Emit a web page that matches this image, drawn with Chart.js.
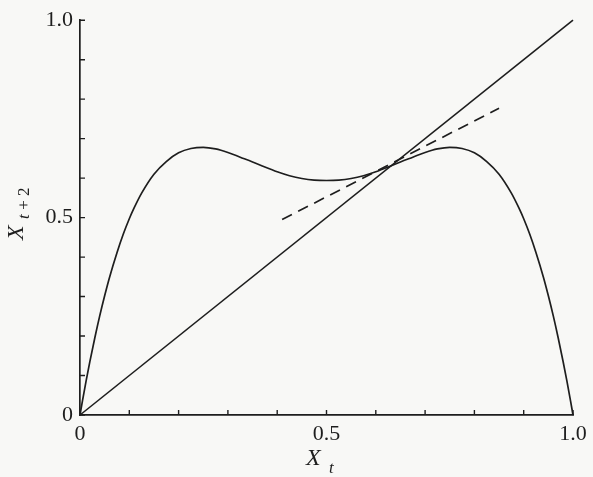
<!DOCTYPE html>
<html>
<head>
<meta charset="utf-8">
<script src="https://cdn.jsdelivr.net/npm/chart.js@4/dist/chart.umd.min.js"></script>
<style>
html,body{margin:0;padding:0;background:#f8f8f6;}
#wrap{width:593px;height:477px;position:relative;}
</style>
</head>
<body>
<div id="wrap"><canvas id="c" width="593" height="477"></canvas></div>
<script>
// Second-iterate curve X_{t+2} vs X_t
const curveX = [0,0.005,0.0125,0.02,0.03,0.04,0.05,0.06,0.075,0.0875,0.1,0.11,0.125,0.15,0.175,0.2,0.225,0.25,0.275,0.3,0.325,0.35,0.375,0.4,0.425,0.45,0.475,0.5,
  0.525,0.55,0.575,0.6,0.625,0.65,0.675,0.7,0.725,0.75,0.775,0.8,0.825,0.85,0.875,0.89,0.9,0.9125,0.925,0.94,0.95,0.96,0.97,0.98,0.9875,0.995,1];
const curveY = [0,0.036,0.087,0.135,0.195,0.251,0.302,0.349,0.411,0.457,0.497,0.525,0.562,0.610,0.642,0.664,0.675,0.678,0.674,0.665,0.653,0.641,0.628,0.616,0.606,0.599,0.595,0.594,
  0.595,0.599,0.606,0.616,0.628,0.641,0.653,0.665,0.674,0.678,0.675,0.664,0.642,0.610,0.562,0.525,0.497,0.457,0.411,0.349,0.302,0.251,0.195,0.135,0.087,0.036,0];
// 45-degree line
const diagX = [0, 1];
const diagY = [0, 1];
// dashed tangent at the fixed point
const tangentX = [0.41, 0.85];
const tangentY = [0.495, 0.777];
// labelled ticks
const tickLabelsX = {"0":"0","0.5":"0.5","1":"1.0"};
const tickLabelsY = {"0":"0","0.5":"0.5","1":"1.0"};

const toPts = (xs, ys) => xs.map((x, i) => ({x: x, y: ys[i]}));
const INK = '#1e1e1e';
const FONT = 'Liberation Serif';

function labelFor(map, v) {
  for (const k in map) { if (Math.abs(parseFloat(k) - v) < 1e-6) return map[k]; }
  return '';
}

const inwardTicks = {
  id: 'inwardTicks',
  afterDraw(chart) {
    const ctx = chart.ctx;
    const xs = chart.scales.x, ys = chart.scales.y;
    ctx.save();
    ctx.strokeStyle = INK;
    ctx.lineWidth = 1.4;
    ctx.beginPath();
    xs.ticks.forEach(t => {
      const px = xs.getPixelForValue(t.value);
      ctx.moveTo(px, ys.bottom);
      ctx.lineTo(px, ys.bottom - 5);
    });
    ys.ticks.forEach(t => {
      const py = ys.getPixelForValue(t.value);
      ctx.moveTo(xs.left, py);
      ctx.lineTo(xs.left + 5, py);
    });
    ctx.stroke();
    // axis titles with subscripts
    ctx.fillStyle = INK;
    ctx.textBaseline = 'alphabetic';
    ctx.textAlign = 'left';
    // x title
    ctx.font = 'italic 24px "' + FONT + '"';
    ctx.fillText('X', 306, 465);
    ctx.font = 'italic 17px "' + FONT + '"';
    ctx.fillText('t', 329, 473);
    // y title (rotated)
    ctx.translate(23, 240);
    ctx.rotate(-Math.PI / 2);
    ctx.font = 'italic 24px "' + FONT + '"';
    ctx.fillText('X', 0, 0);
    ctx.font = 'italic 17px "' + FONT + '"';
    ctx.fillText('t', 21, 6);
    ctx.font = '17px "' + FONT + '"';
    ctx.fillText(' + 2', 26, 6);
    ctx.restore();
  }
};

const bg = {
  id: 'bg',
  beforeDraw(chart) {
    const ctx = chart.ctx;
    ctx.save();
    ctx.fillStyle = '#f8f8f6';
    ctx.fillRect(0, 0, chart.width, chart.height);
    ctx.restore();
  }
};

new Chart(document.getElementById('c'), {
  type: 'scatter',
  data: {
    datasets: [
      {data: toPts(curveX, curveY), showLine: true, borderColor: INK, borderWidth: 1.7, pointRadius: 0, cubicInterpolationMode: 'monotone', clip: false},
      {data: toPts(diagX, diagY), showLine: true, borderColor: INK, borderWidth: 1.6, pointRadius: 0, clip: false},
      {data: toPts(tangentX, tangentY), showLine: true, borderColor: INK, borderWidth: 1.7, borderDash: [11, 7], pointRadius: 0}
    ]
  },
  options: {
    responsive: false,
    animation: false,
    events: [],
    layout: {padding: {top: 17, right: 20, left: 0, bottom: 0}},
    plugins: {legend: {display: false}, tooltip: {enabled: false}},
    scales: {
      x: {
        type: 'linear', min: 0, max: 1,
        afterFit: s => { s.height = 62; },
        grid: {display: true, drawOnChartArea: false, drawTicks: false},
        border: {display: true, color: INK, width: 1.7},
        ticks: {stepSize: 0.1, autoSkip: false, maxRotation: 0, padding: 6, color: INK,
          font: {family: FONT, size: 22},
          callback: v => labelFor(tickLabelsX, v)}
      },
      y: {
        type: 'linear', min: 0, max: 1,
        afterFit: s => { s.width = 80; },
        grid: {display: true, drawOnChartArea: false, drawTicks: false},
        border: {display: true, color: INK, width: 1.7},
        ticks: {stepSize: 0.1, autoSkip: false, padding: 7, color: INK,
          font: {family: FONT, size: 22},
          callback: v => labelFor(tickLabelsY, v)}
      }
    }
  },
  plugins: [bg, inwardTicks]
});
</script>
</body>
</html>
